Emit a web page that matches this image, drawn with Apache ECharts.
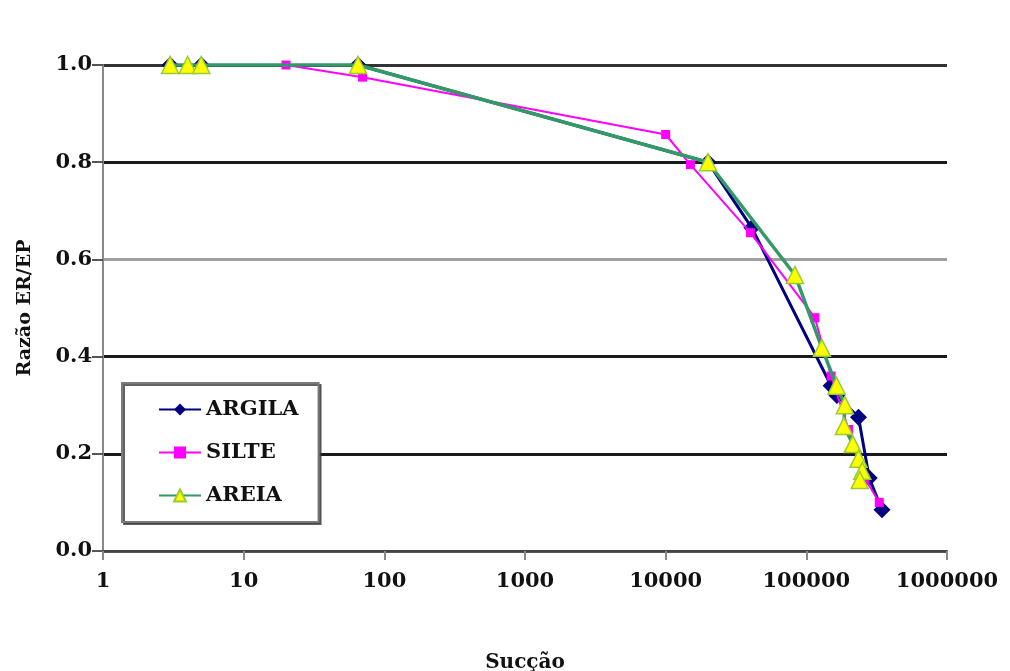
<!DOCTYPE html>
<html>
<head>
<meta charset="utf-8">
<script src="https://cdn.jsdelivr.net/npm/echarts@6/dist/echarts.min.js"></script>
<style>html,body{margin:0;padding:0;background:#fff;}#c{width:1010px;height:671px;}</style>
</head>
<body>
<div id="c"></div>
<script>
var seriesNames = ['ARGILA', 'SILTE', 'AREIA'];
var argila = [[3,1],[5,1],[65,1],[20000,0.8],[41000,0.665],[150000,0.34],[165000,0.32],[235000,0.275],[280000,0.15],[345000,0.085]];
var silte = [[20,1],[70,0.975],[10000,0.857],[15000,0.795],[40000,0.655],[115000,0.48],[150000,0.36],[200000,0.25],[260000,0.15],[330000,0.1]];
var areia = [[3,1],[4,1],[5,1],[65,1],[20000,0.8],[83000,0.568],[129000,0.418],[164000,0.34],[188000,0.3],[185000,0.257],[214000,0.22],[235000,0.19],[250000,0.165],[240000,0.146]];
var xTickLabels = ['1','10','100','1000','10000','100000','1000000'];
var yTickLabels = ['0.0','0.2','0.4','0.6','0.8','1.0'];

var font = 'DejaVu Serif';
var chart = echarts.init(document.getElementById('c'), null, {renderer: 'canvas'});
chart.setOption({
  backgroundColor: '#ffffff',
  animation: false,
  grid: {left: 103, right: 63, top: 65, bottom: 120, containLabel: false, outerBoundsMode: 'none'},
  xAxis: {
    type: 'log', logBase: 10, min: 1, max: 1000000,
    name: 'Sucção', nameLocation: 'middle', nameGap: 102,
    nameTextStyle: {fontFamily: font, fontWeight: 'bold', fontSize: 20, color: '#111'},
    axisLine: {show: true, lineStyle: {color: '#444', width: 2}},
    axisTick: {show: true, inside: false, length: 9, lineStyle: {color: '#888', width: 2}},
    axisLabel: {
      margin: 20, fontFamily: font, fontWeight: 'bold', fontSize: 21, color: '#111',
      formatter: function (v, i) { return xTickLabels[Math.round(Math.log10(v))]; }
    },
    splitLine: {show: false}
  },
  yAxis: {
    type: 'value', min: 0, max: 1, interval: 0.2,
    name: 'Razão ER/EP', nameLocation: 'middle', nameGap: 68, nameRotate: 90,
    nameTextStyle: {fontFamily: font, fontWeight: 'bold', fontSize: 19, color: '#111'},
    axisLine: {show: true, lineStyle: {color: '#888', width: 2}},
    axisTick: {show: true, inside: false, length: 11, lineStyle: {color: '#555', width: 2}},
    axisLabel: {
      margin: 11, fontFamily: font, fontWeight: 'bold', fontSize: 21, color: '#111',
      formatter: function (v) { return yTickLabels[Math.round(v * 5)]; }
    },
    splitLine: {show: true, showMinLine: true, showMaxLine: true,
      lineStyle: {width: 3, color: ['#555', '#1a1a1a', '#1a1a1a', '#a0a0a0', '#1a1a1a', '#333']}}
  },
  legend: {
    show: true, orient: 'vertical', left: 122, top: 383,
    data: seriesNames,
    itemWidth: 42, itemHeight: 15, itemGap: 22,
    padding: [16, 20, 16, 36],
    backgroundColor: '#ffffff', borderColor: '#7a7a7a', borderWidth: 2,
    shadowColor: 'rgba(60,60,60,0.8)', shadowOffsetX: 2, shadowOffsetY: 2, shadowBlur: 0,
    textStyle: {fontFamily: font, fontWeight: 'bold', fontSize: 21, color: '#111'}
  },
  series: [
    {name: seriesNames[0], type: 'line', data: argila, symbol: 'diamond', symbolSize: 17,
     lineStyle: {color: '#000080', width: 3}, itemStyle: {color: '#000080'}, z: 2},
    {name: seriesNames[1], type: 'line', data: silte, symbol: 'rect', symbolSize: 9,
     lineStyle: {color: '#ff00ff', width: 2}, itemStyle: {color: '#ff00ff'}, z: 3},
    {name: seriesNames[2], type: 'line', data: areia, symbol: 'triangle', symbolSize: 17,
     lineStyle: {color: '#339966', width: 3.5}, itemStyle: {color: '#ffff00', borderColor: '#99cc33', borderWidth: 1.5}, z: 4}
  ]
});
</script>
</body>
</html>
